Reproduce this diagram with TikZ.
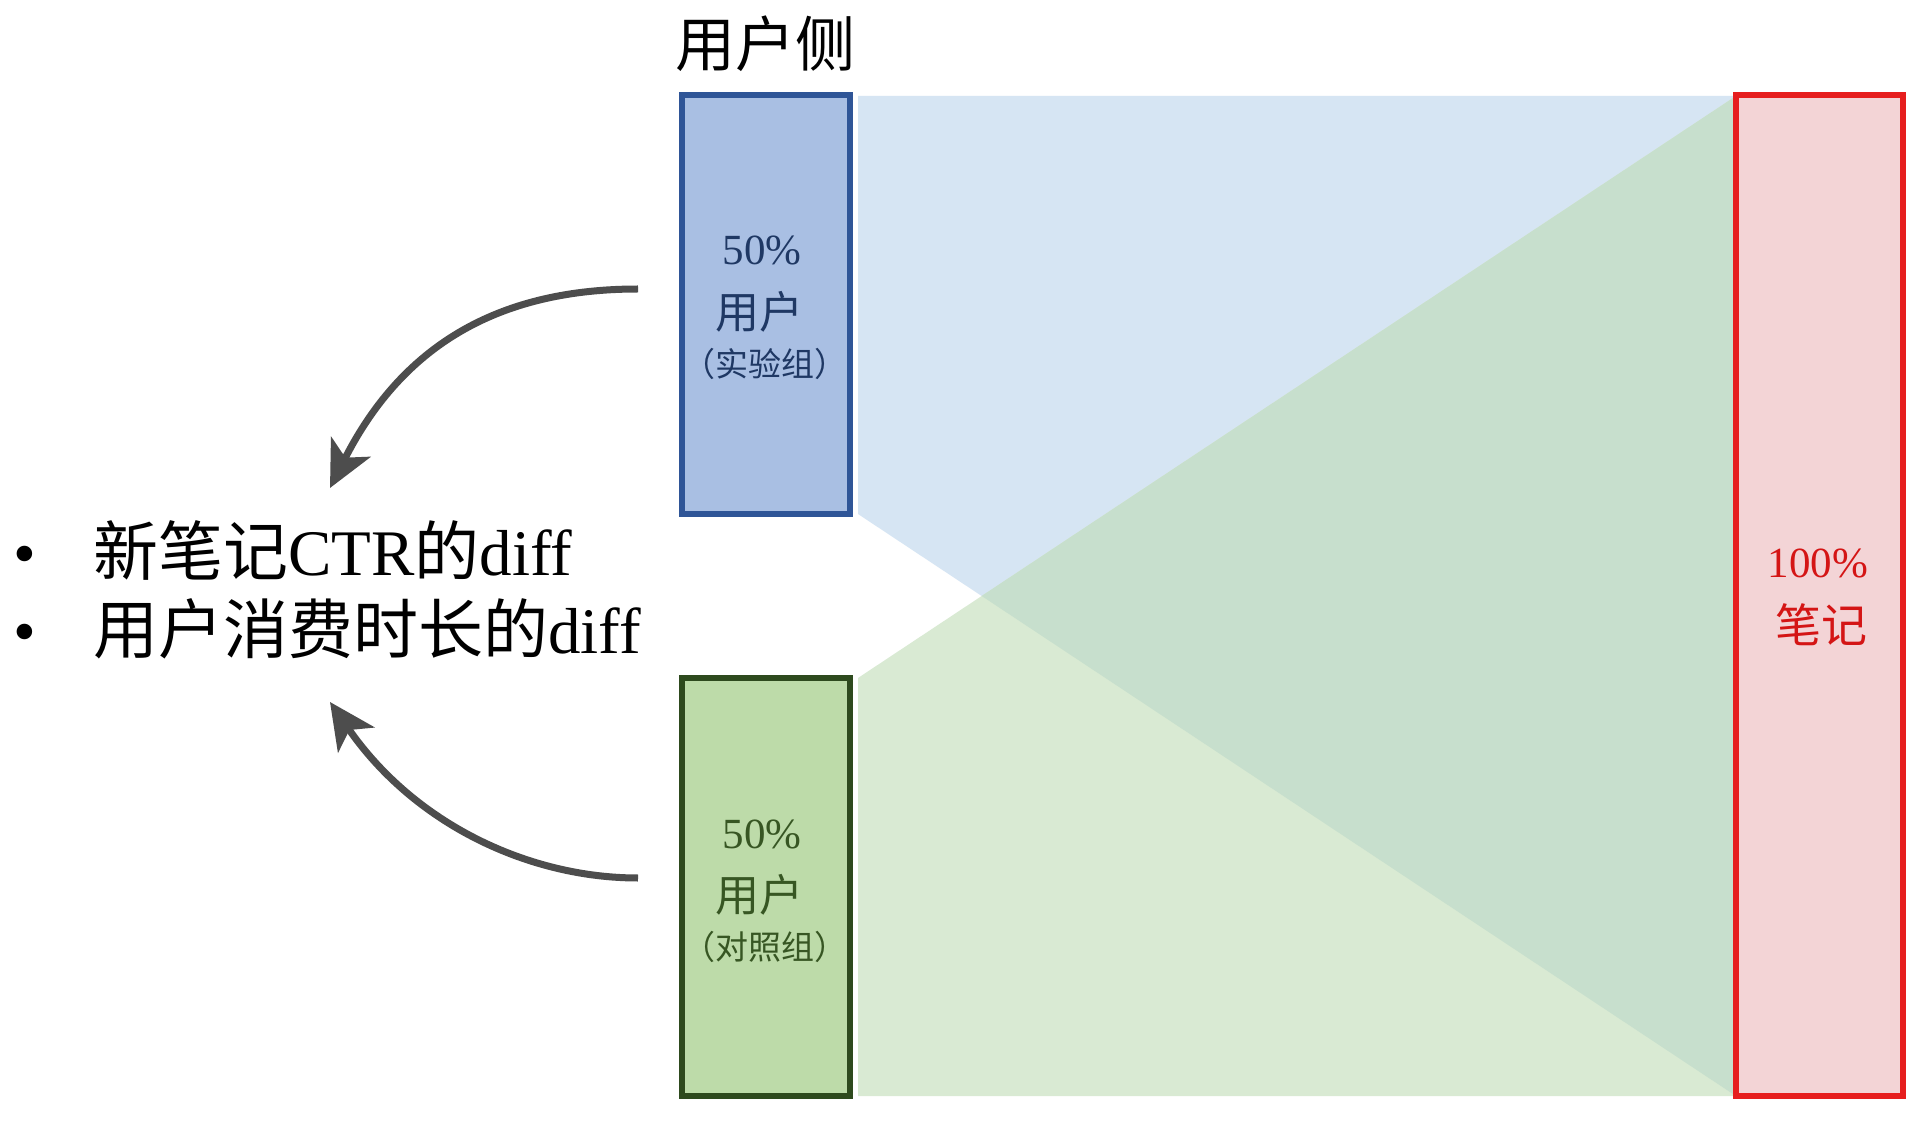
\documentclass[tikz,border=0pt]{standalone}
\usepackage{fontspec}
\setmainfont{Liberation Serif}
\newfontfamily\cjk{Noto Sans CJK SC}
\usetikzlibrary{arrows.meta}
\definecolor{bandblue}{HTML}{D6E5F3}
\definecolor{bandgreen}{HTML}{D9EAD3}
\definecolor{bandmix}{HTML}{C7DFCD}
\definecolor{expfill}{HTML}{A9BFE3}
\definecolor{expdraw}{HTML}{2F5597}
\definecolor{exptext}{HTML}{1F3864}
\definecolor{ctlfill}{HTML}{BDDBA9}
\definecolor{ctldraw}{HTML}{2E4A1E}
\definecolor{ctltext}{HTML}{375623}
\definecolor{notefill}{HTML}{F3D4D6}
\definecolor{notedraw}{HTML}{E61E1E}
\definecolor{notetext}{HTML}{D41515}
\definecolor{arrowgray}{HTML}{4D4D4D}
\tikzset{
  groupbox/.style={rectangle, line width=3pt, minimum width=84pt, inner sep=0pt, outer sep=0pt},
  pct/.style={inner sep=0pt, anchor=base, font=\fontsize{21.5pt}{25pt}\selectfont},
  usr/.style={inner sep=0pt, font=\fontsize{22pt}{26pt}\selectfont\cjk},
  grp/.style={inner sep=0pt, font=\fontsize{16.5pt}{20pt}\selectfont\cjk},
  bulletline/.style={inner sep=0pt, anchor=base west, font=\fontsize{32.5pt}{39pt}\selectfont},
  bulletdot/.style={inner sep=0pt, anchor=base, font=\fontsize{32.5pt}{39pt}\selectfont},
  curvedarrow/.style={draw=arrowgray, line width=3.5pt, -{Stealth[length=23pt, width=22pt, inset=6pt]}},
}
\begin{document}
\begin{tikzpicture}[x=0.5pt, y=-0.5pt]
\useasboundingbox (0,0) rectangle (1928,1128);
\fill[white] (0,0) rectangle (1928,1128);

% bands
\coordinate (bTL) at (858,96);
\coordinate (bTR) at (1736,96);
\coordinate (bBR) at (1736,1096);
\coordinate (bBL) at (858,514);
\coordinate (gTL) at (858,678);
\coordinate (gBL) at (858,1096);
\fill[bandblue] (bTL) -- (bTR) -- (bBR) -- (bBL) -- cycle;
\fill[bandgreen] (gTL) -- (bTR) -- (bBR) -- (gBL) -- cycle;
\coordinate (X) at (intersection of bBL--bBR and gTL--bTR);
\fill[bandmix] (X) -- (bTR) -- (bBR) -- cycle;

% title
\node[inner sep=0pt, font=\fontsize{30pt}{36pt}\selectfont\cjk] (title) at (765,44) {用户侧};

% boxes
\node[groupbox, draw=expdraw, fill=expfill, minimum height=209.5pt] (exp) at (766,304.5) {};
\node[groupbox, draw=ctldraw, fill=ctlfill, minimum height=209pt] (ctl) at (766,887) {};
\node[groupbox, draw=notedraw, fill=notefill, minimum width=83.5pt, minimum height=500.5pt] (notes) at (1819.5,595.5) {};

% box texts
\node[pct, text=exptext] (exppct) at (762,265) {50\%};
\node[usr, text=exptext] (expusr) at (759,312) {用户};
\node[grp, text=exptext] (expgrp) at (765,364) {（实验组）};
\node[pct, text=ctltext] (ctlpct) at (762,848) {50\%};
\node[usr, text=ctltext] (ctlusr) at (759,895) {用户};
\node[grp, text=ctltext] (ctlgrp) at (765,947) {（对照组）};
\node[pct, text=notetext] (notepct) at (1818,577) {100\%};
\node[inner sep=0pt, text=notetext, font=\fontsize{23pt}{27pt}\selectfont\cjk] (noteusr) at (1821,625) {笔记};

% bullet list
\node[bulletdot] (dot1) at (25,575) {•};
\node[bulletdot] (dot2) at (25,653) {•};
\node[bulletline] (line1) at (93,575) {{\cjk 新笔记}CTR{\cjk 的}diff};
\node[bulletline] (line2) at (93,653) {{\cjk 用户消费时长的}diff};

% arrows
\coordinate (a1s) at (638,289);
\coordinate (a1e) at (330,488);
\coordinate (a2s) at (638,878);
\coordinate (a2e) at (330,702);
\draw[curvedarrow] (a1s) .. controls (505,289) and (405,340) .. (a1e);
\draw[curvedarrow] (a2s) .. controls (530,878) and (415,825) .. (a2e);
\end{tikzpicture}
\end{document}
